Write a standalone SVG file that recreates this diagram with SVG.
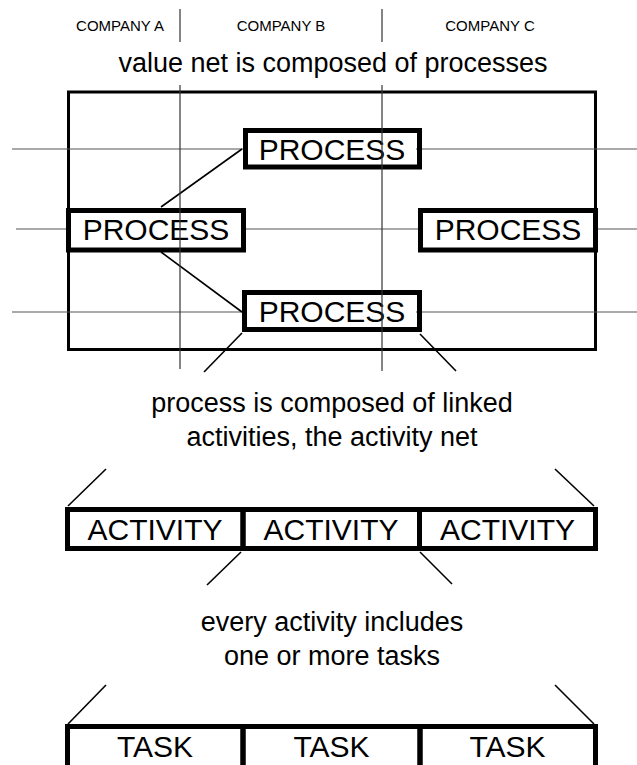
<svg xmlns="http://www.w3.org/2000/svg" width="637" height="765" viewBox="0 0 637 765">
<style>
.grid{stroke:#555;stroke-width:1.2;fill:none}
.vgrid{stroke:#333;stroke-width:1.2;fill:none}
.conn{stroke:#000;stroke-width:1.6;fill:none}
.box{stroke:#000;stroke-width:5;fill:none}
.frame{stroke:#000;stroke-width:3;fill:none}
.lbl{font-family:"Liberation Sans",Arial,sans-serif;fill:#000;text-anchor:middle}
.big{font-size:30px}
.mid{font-size:27px}
.small{font-size:15px}
</style>
<rect width="637" height="765" fill="#fff"/>
<g id="company-labels">
<text class="lbl small" x="120" y="31">COMPANY A</text>
<text class="lbl small" x="281" y="31">COMPANY B</text>
<text class="lbl small" x="490" y="31">COMPANY C</text>
</g>
<text class="lbl mid" x="333" y="72">value net is composed of processes</text>
<g id="value-net-frame">
<rect class="frame" x="68.5" y="92" width="527" height="257.5"/>
</g>
<g id="connectors">
<line class="grid" x1="12" y1="149" x2="243" y2="149"/>
<line class="grid" x1="416" y1="149" x2="637" y2="149"/>
<line class="grid" x1="16" y1="229" x2="66" y2="229"/>
<line class="grid" x1="246" y1="229" x2="418" y2="229"/>
<line class="grid" x1="597" y1="229" x2="637" y2="229"/>
<line class="grid" x1="12" y1="312" x2="242" y2="312"/>
<line class="grid" x1="416" y1="312" x2="637" y2="312"/>
<line class="conn" x1="161" y1="207" x2="242" y2="149"/>
<line class="conn" x1="161" y1="252" x2="242" y2="312"/>
<line class="conn" x1="242" y1="333" x2="204" y2="372"/>
<line class="conn" x1="420" y1="334" x2="456" y2="371"/>
<line class="conn" x1="68" y1="506" x2="106" y2="469"/>
<line class="conn" x1="555" y1="469" x2="594" y2="506"/>
<line class="conn" x1="241" y1="552" x2="207" y2="585"/>
<line class="conn" x1="420" y1="552" x2="452" y2="584"/>
<line class="conn" x1="68" y1="724" x2="106" y2="685"/>
<line class="conn" x1="555" y1="685" x2="594" y2="724"/>
</g>
<g id="process-top">
<rect class="box" x="245.5" y="130.5" width="174" height="36.5"/>
<text class="lbl big" x="332" y="160">PROCESS</text>
</g>
<g id="process-left">
<rect class="box" x="68.5" y="210.5" width="175" height="39.5"/>
<text class="lbl big" x="156" y="240">PROCESS</text>
</g>
<g id="process-right">
<rect class="box" x="420.5" y="210.5" width="175" height="39.5"/>
<text class="lbl big" x="508" y="240">PROCESS</text>
</g>
<g id="process-bottom">
<rect class="box" x="244.5" y="292.5" width="175" height="37"/>
<text class="lbl big" x="332" y="322">PROCESS</text>
</g>
<g id="company-dividers">
<line class="vgrid" x1="180" y1="9" x2="180" y2="42"/>
<line class="vgrid" x1="180" y1="85" x2="180" y2="369"/>
<line class="vgrid" x1="382" y1="9" x2="382" y2="42"/>
<line class="vgrid" x1="382" y1="85" x2="382" y2="371"/>
</g>
<text class="lbl mid" x="332" y="412">process is composed of linked</text>
<text class="lbl mid" x="332" y="446">activities, the activity net</text>
<g id="activity-1">
<rect class="box" x="67.5" y="509.5" width="175.5" height="39"/>
<text class="lbl big" x="155" y="540">ACTIVITY</text>
</g>
<g id="activity-2">
<rect class="box" x="243" y="509.5" width="176.5" height="39"/>
<text class="lbl big" x="331" y="540">ACTIVITY</text>
</g>
<g id="activity-3">
<rect class="box" x="419.5" y="509.5" width="176" height="39"/>
<text class="lbl big" x="507.5" y="540">ACTIVITY</text>
</g>
<text class="lbl mid" x="332" y="631">every activity includes</text>
<text class="lbl mid" x="332" y="665">one or more tasks</text>
<g id="task-1">
<rect class="box" x="67.5" y="726.5" width="175.5" height="45"/>
<text class="lbl big" x="155" y="757">TASK</text>
</g>
<g id="task-2">
<rect class="box" x="243" y="726.5" width="177" height="45"/>
<text class="lbl big" x="331.5" y="757">TASK</text>
</g>
<g id="task-3">
<rect class="box" x="420" y="726.5" width="175.5" height="45"/>
<text class="lbl big" x="507.5" y="757">TASK</text>
</g>
</svg>
